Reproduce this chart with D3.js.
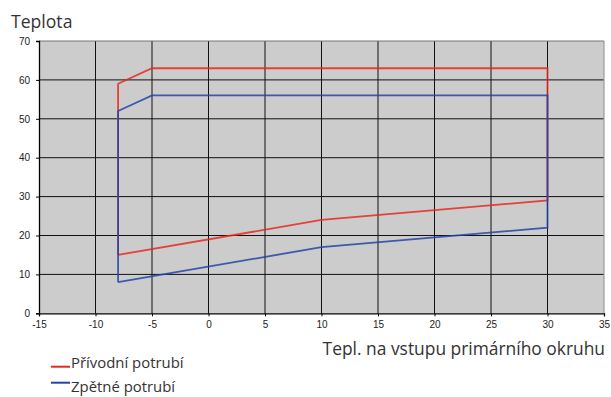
<!DOCTYPE html>
<html>
<head>
<meta charset="utf-8">
<script src="https://cdn.jsdelivr.net/npm/d3@7"></script>
<style>
  html, body { margin: 0; padding: 0; background: #fff; }
  svg { display: block; }
</style>
</head>
<body>
<svg id="chart" width="611" height="397"></svg>
<script>
// Operating envelope: outline of each pipe's temperature vs. primary inlet temperature
const supplyX = [-8, 10, 30, 30, -5, -8, -8];
const supplyY = [15, 24, 29, 63, 63, 59, 15];
const returnX = [-8, 10, 30, 30, -5, -8, -8];
const returnY = [8, 17, 22, 56, 56, 52, 8];

const xTicks = [-15, -10, -5, 0, 5, 10, 15, 20, 25, 30, 35];
const yTicks = [0, 10, 20, 30, 40, 50, 60, 70];

const seriesNames = ["Přívodní potrubí", "Zpětné potrubí"];
const seriesColors = ["#e8281e", "#2244a8"];

const svg = d3.select("#chart");
const plotLeft = 39, plotRight = 604, plotTop = 41, plotBottom = 313.3;

const x = d3.scaleLinear().domain([-15, 35]).range([plotLeft, plotRight]);
const y = d3.scaleLinear().domain([0, 70]).range([plotBottom, plotTop]);

// plot area
svg.append("rect")
  .attr("x", plotLeft).attr("y", plotTop)
  .attr("width", plotRight - plotLeft).attr("height", plotBottom - plotTop)
  .attr("fill", "#cccccc");

// grid
svg.append("g").selectAll("line")
  .data(xTicks.slice(1, -1)).join("line")
  .attr("x1", d => x(d)).attr("x2", d => x(d))
  .attr("y1", plotTop).attr("y2", plotBottom)
  .attr("stroke", "#111").attr("stroke-width", 1);
svg.append("g").selectAll("line")
  .data(yTicks.slice(1)).join("line")
  .attr("x1", plotLeft).attr("x2", plotRight)
  .attr("y1", d => y(d)).attr("y2", d => y(d))
  .attr("stroke", d => d === 70 ? "#777" : "#111").attr("stroke-width", 1);

// right border
svg.append("line")
  .attr("x1", plotRight).attr("x2", plotRight).attr("y1", plotTop).attr("y2", plotBottom)
  .attr("stroke", "#999").attr("stroke-width", 1.2);

// axes
const xAxis = d3.axisBottom(x).tickValues(xTicks).tickSize(3).tickPadding(5).tickFormat(d3.format("d"));
const yAxis = d3.axisLeft(y).tickValues(yTicks).tickSize(3).tickPadding(6).tickFormat(d3.format("d"));

const gx = svg.append("g").attr("transform", `translate(0,${plotBottom})`).call(xAxis);
const gy = svg.append("g").attr("transform", `translate(${plotLeft},0)`).call(yAxis);
[gx, gy].forEach(g => {
  g.select(".domain").attr("stroke", "#000").attr("stroke-width", 1.3);
  g.selectAll(".tick line").attr("stroke", "#000");
  g.selectAll(".tick text")
    .attr("fill", "#222")
    .style("font-family", "'Liberation Sans', Arial, sans-serif")
    .style("font-size", "10px");
});
gx.selectAll(".tick text").text(d => d < 0 ? "-" + Math.abs(d) : d);

// series
const line = d3.line().x(d => x(d[0])).y(d => y(d[1]));
const series = [d3.zip(supplyX, supplyY), d3.zip(returnX, returnY)];
svg.append("g").selectAll("path")
  .data(series).join("path")
  .attr("d", d => line(d))
  .attr("fill", "none")
  .attr("stroke", (d, i) => seriesColors[i])
  .attr("stroke-opacity", 0.85)
  .attr("stroke-width", 1.8);

// titles
const titleFont = "'Open Sans', 'Noto Sans', sans-serif";
svg.append("text")
  .attr("x", 11).attr("y", 27.5)
  .attr("fill", "#333")
  .style("font-family", titleFont).style("font-size", "17.6px")
  .text("Teplota");
svg.append("text")
  .attr("x", 605).attr("y", 355)
  .attr("text-anchor", "end")
  .attr("fill", "#333")
  .style("font-family", titleFont).style("font-size", "17.4px")
  .text("Tepl. na vstupu primárního okruhu");

// legend
const legendRows = [
  { lineY: 366.7, textY: 368, name: seriesNames[0], color: seriesColors[0] },
  { lineY: 382.7, textY: 391.7, name: seriesNames[1], color: seriesColors[1] }
];
const lg = svg.append("g");
lg.selectAll("line").data(legendRows).join("line")
  .attr("x1", 51).attr("x2", 70)
  .attr("y1", d => d.lineY).attr("y2", d => d.lineY)
  .attr("stroke", d => d.color).attr("stroke-width", 2);
lg.selectAll("text").data(legendRows).join("text")
  .attr("x", 71).attr("y", d => d.textY)
  .attr("fill", "#333")
  .style("font-family", titleFont).style("font-size", "14.9px")
  .text(d => d.name);
</script>
</body>
</html>
